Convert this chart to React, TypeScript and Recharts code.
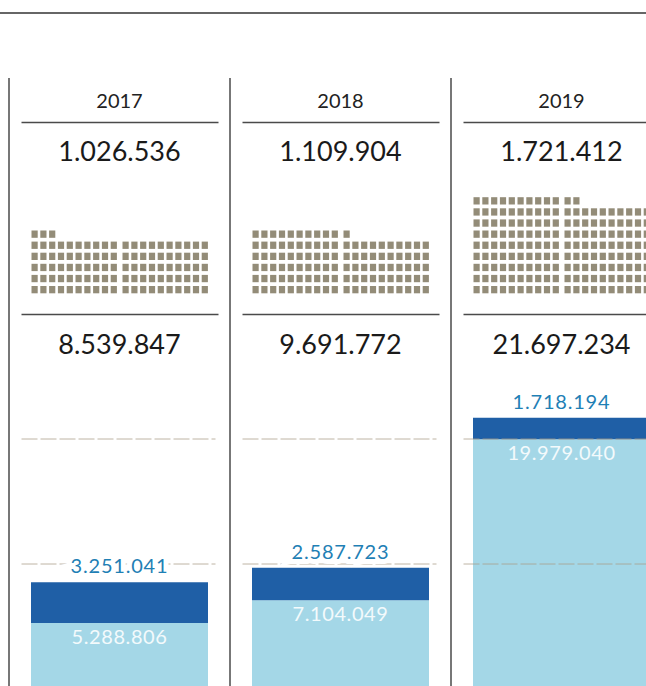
import React from "react";
import { BarChart, Bar, XAxis, YAxis, ReferenceLine, LabelList } from "recharts";

const years = ["2017", "2018", "2019"];
const visitors = [1026536, 1109904, 1721412];
const totalStays = [8539847, 9691772, 21697234];
const staysLight = [5288806, 7104049, 19979040];
const staysDark = [3251041, 2587723, 1718194];
const gridValues = [10000000, 20000000];
const ICON_UNIT = 10000; // one square = 10.000

const COLOR_DARK = "#1f5fa6";
const COLOR_LIGHT = "#a4d7e7";
const COLOR_LABEL = "#1f80b5";
const COLOR_RULE = "#4a4a4a";
const COLOR_ICON = "#938c78";
const FONT = "Lato, 'Noto Sans', sans-serif";

const CHART_W = 680;
const CHART_H = 700;
const margin = { top: 0, right: 8, bottom: 11, left: 9 };
const HEAD_H = 376.5;
const COL_W = (CHART_W - margin.left - margin.right) / years.length;

const data = years.map((y, i) => ({
  year: y,
  light: staysLight[i],
  dark: staysDark[i],
}));

function fmt(n: number) {
  return String(n).replace(/\B(?=(\d{3})+(?!\d))/g, ".");
}

// column header: year, visitors, waffle, total stays, separator
function ColumnTick(props: any) {
  const { x, payload } = props;
  const i = years.indexOf(String(payload.value));
  if (i < 0) return null;
  const cx = x;
  const left = cx - COL_W / 2;
  const n = Math.round(visitors[i] / ICON_UNIT);
  const icons = [];
  for (let k = 0; k < n; k++) {
    const row = Math.floor(k / 20);
    const col = k % 20;
    icons.push(
      <rect
        key={k}
        x={cx - 88 + col * 8.8 + (col >= 10 ? 3 : 0)}
        y={286 - row * 11.1}
        width={6.2}
        height={7.3}
        fill={COLOR_ICON}
      />
    );
  }
  return (
    <g>
      <line x1={left} x2={left} y1={78} y2={CHART_H} stroke={COLOR_RULE} strokeWidth={1.5} />
      <text x={cx} y={108} textAnchor="middle" fontSize={20} fill="#222" fontFamily={FONT}>
        {years[i]}
      </text>
      <line x1={cx - 98} x2={cx + 99} y1={122.5} y2={122.5} stroke={COLOR_RULE} strokeWidth={1.6} />
      <text x={cx} y={161} textAnchor="middle" fontSize={27} fill="#1a1a1a" fontFamily={FONT}>
        {fmt(visitors[i])}
      </text>
      {icons}
      <line x1={cx - 98} x2={cx + 99} y1={314.5} y2={314.5} stroke={COLOR_RULE} strokeWidth={1.6} />
      <text x={cx} y={354} textAnchor="middle" fontSize={27} fill="#1a1a1a" fontFamily={FONT}>
        {fmt(totalStays[i])}
      </text>
    </g>
  );
}

// dashed guide split per column
function GridShape(props: any) {
  const { y1 } = props;
  return (
    <g>
      {years.map((_, i) => {
        const cx = margin.left + COL_W * (i + 0.5);
        return (
          <line
            key={i}
            x1={cx - 98}
            x2={cx + 96}
            y1={y1}
            y2={y1}
            stroke="#a89c86"
            strokeOpacity={0.75}
            strokeWidth={1}
            strokeDasharray="16 3"
          />
        );
      })}
    </g>
  );
}

function DarkLabel(props: any) {
  const { x, y, width, value } = props;
  return (
    <text
      x={x + width / 2}
      y={y - 9}
      textAnchor="middle"
      fontSize={20}
      fill={COLOR_LABEL}
      fontFamily={FONT}
      stroke="#fff"
      strokeWidth={10}
      paintOrder="stroke"
      letterSpacing={0.8}
    >
      {fmt(value)}
    </text>
  );
}

function LightLabel(props: any) {
  const { x, y, width, value } = props;
  return (
    <text
      x={x + width / 2}
      y={y + 21}
      textAnchor="middle"
      fontSize={20}
      fill="#f3fafc"
      fontFamily={FONT}
      letterSpacing={0.6}
    >
      {fmt(value)}
    </text>
  );
}

export default function App() {
  return (
    <div
      style={{
        position: "absolute",
        left: 0,
        top: 0,
        width: 646,
        height: 686,
        overflow: "hidden",
        background: "#fff",
      }}
    >
      <div
        style={{
          position: "absolute",
          left: 0,
          top: 12,
          width: 646,
          height: 1.5,
          background: "#666",
        }}
      />
      <div style={{ position: "absolute", left: 0, top: 0 }}>
        <BarChart width={CHART_W} height={CHART_H} data={data} margin={margin}>
          <XAxis
            dataKey="year"
            orientation="top"
            height={HEAD_H}
            axisLine={false}
            tickLine={false}
            interval={0}
            tick={<ColumnTick />}
          />
          <YAxis hide domain={[0, 25000000]} />
          <Bar dataKey="light" stackId="a" fill={COLOR_LIGHT} barSize={177} isAnimationActive={false}>
            <LabelList dataKey="light" content={<LightLabel />} />
          </Bar>
          <Bar dataKey="dark" stackId="a" fill={COLOR_DARK} barSize={177} isAnimationActive={false}>
            <LabelList dataKey="dark" content={<DarkLabel />} />
          </Bar>
          {gridValues.map((v) => (
            <ReferenceLine key={v} y={v} shape={<GridShape />} zIndex={350} />
          ))}
        </BarChart>
      </div>
    </div>
  );
}
